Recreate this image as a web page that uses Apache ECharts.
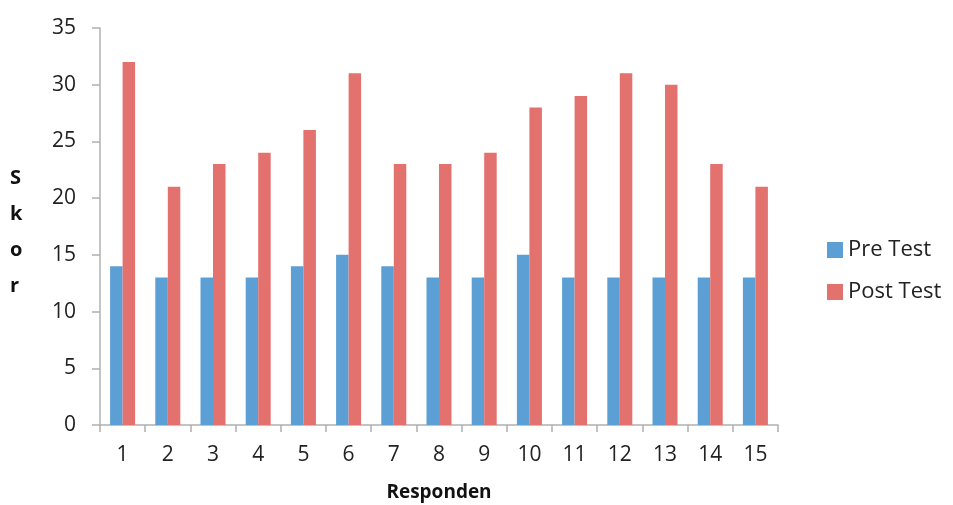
<!DOCTYPE html>
<html>
<head>
<meta charset="utf-8">
<script src="https://cdn.jsdelivr.net/npm/echarts@6/dist/echarts.min.js"></script>
<style>html,body{margin:0;padding:0;background:#fff}#c{width:953px;height:505px}</style>
</head>
<body>
<div id="c"></div>
<script>
const categories = ['1','2','3','4','5','6','7','8','9','10','11','12','13','14','15'];
const preTest = [14,13,13,13,14,15,14,13,13,15,13,13,13,13,13];
const postTest = [32,21,23,24,26,31,23,23,24,28,29,31,30,23,21];

const chart = echarts.init(document.getElementById('c'));
const font = '"Open Sans", "DejaVu Sans", sans-serif';
chart.setOption({
  animation: false,
  backgroundColor: '#fff',
  grid: { left: 100, right: 175, top: 28, bottom: 80, containLabel: false, outerBoundsMode: 'none' },
  legend: {
    orient: 'vertical', left: 822, top: 234, itemWidth: 16, itemHeight: 16, itemGap: 20,
    icon: 'rect',
    textStyle: { fontSize: 22, color: '#222', fontFamily: font },
    data: ['Pre Test', 'Post Test']
  },
  xAxis: {
    type: 'category', data: categories,
    name: 'Responden', nameLocation: 'middle', nameGap: 58,
    nameTextStyle: { fontSize: 19, fontWeight: 'bold', color: '#111', fontFamily: font },
    axisLine: { lineStyle: { color: '#B0B0B0', width: 1.5 } },
    axisTick: { show: true, length: 7, lineStyle: { color: '#B0B0B0', width: 1.5 } },
    axisLabel: { fontSize: 21, color: '#222', margin: 20, fontFamily: font }
  },
  yAxis: {
    type: 'value', min: 0, max: 35, interval: 5,
    axisLine: { show: true, lineStyle: { color: '#B0B0B0', width: 1.5 } },
    axisTick: { show: true, length: 8, lineStyle: { color: '#B0B0B0', width: 1.5 } },
    splitLine: { show: false },
    axisLabel: { fontSize: 21, color: '#222', margin: 24, fontFamily: font }
  },
  graphic: [{
    type: 'text', left: 10, top: 160,
    style: { text: 'S\nk\no\nr', fontSize: 20, fontWeight: 'bold', fill: '#111', lineHeight: 36, align: 'center', fontFamily: font }
  }],
  series: [
    { name: 'Pre Test', type: 'bar', data: preTest, barWidth: 12.5, barGap: '0%', itemStyle: { color: '#5B9FD5' } },
    { name: 'Post Test', type: 'bar', data: postTest, barWidth: 12.5, itemStyle: { color: '#E3716D' } }
  ]
});
</script>
</body>
</html>
